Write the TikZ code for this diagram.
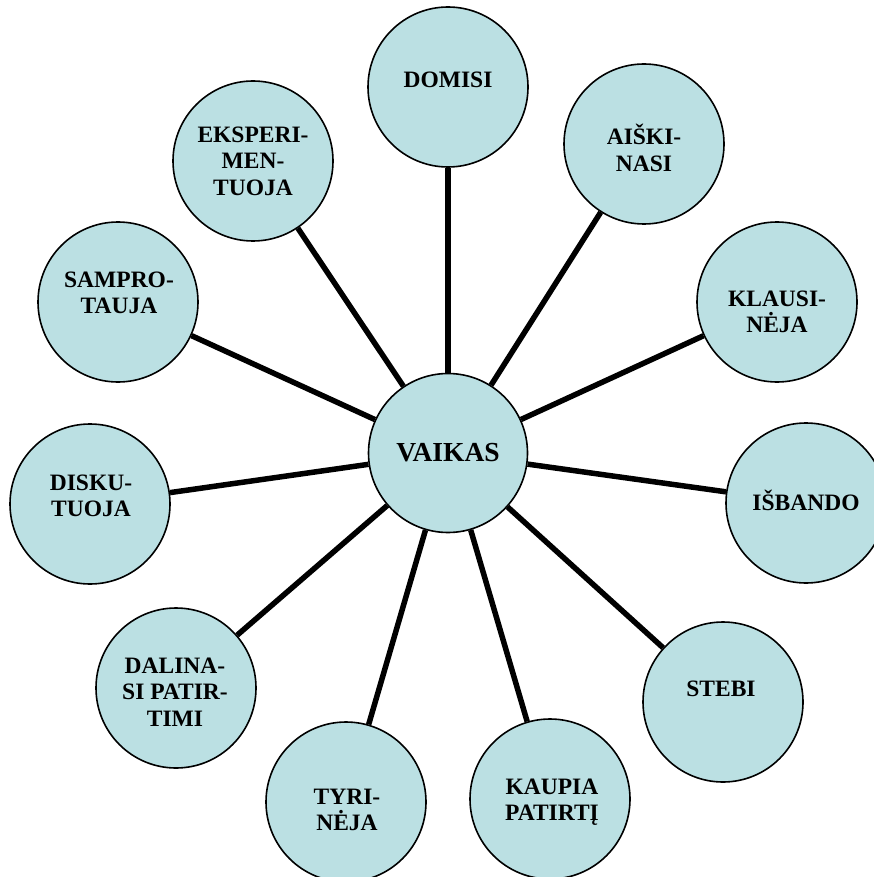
\documentclass[tikz,border=0pt]{standalone}
\usepackage{fontspec}
\setmainfont{Liberation Serif}
\begin{document}
\begin{tikzpicture}[x=1pt,y=-1pt,
  bubble/.style={circle,draw=black,line width=1.6pt,fill=circfill,minimum size=160pt,inner sep=0pt},
  hub/.style={bubble,minimum size=159pt},
  lbl/.style={align=center,inner sep=0pt,font=\bfseries\fontsize{23.5}{26.5}\selectfont},
  hublbl/.style={lbl,font=\bfseries\fontsize{27.5}{30}\selectfont},
  spoke/.style={line width=5.5pt}]
\definecolor{circfill}{RGB}{187,224,227}
\useasboundingbox (0,0) rectangle (874,877);
\clip (0,0) rectangle (874,877);
\node[hub] (c0) at (448,453) {};
\node[bubble] (c1) at (448,87) {};
\node[bubble] (c2) at (644,144) {};
\node[bubble] (c3) at (777,302) {};
\node[bubble] (c4) at (806,503) {};
\node[bubble] (c5) at (723,702) {};
\node[bubble] (c6) at (550,799) {};
\node[bubble] (c7) at (346,802) {};
\node[bubble] (c8) at (176,688) {};
\node[bubble] (c9) at (90,504) {};
\node[bubble] (c10) at (118,302) {};
\node[bubble] (c11) at (253,161) {};
\foreach \i in {1,...,11} {\draw[spoke] (c0) -- (c\i);}
\node[hublbl] (t0) at (448,453) {VAIKAS};
\node[lbl] (t1) at (448,80) {DOMISI};
\node[lbl] (t2) at (644,148) {AIŠKI-\\NASI};
\node[lbl] (t3) at (777,312) {KLAUSI-\\NĖJA};
\node[lbl] (t4) at (806,500) {IŠBANDO};
\node[lbl] (t5) at (721,689) {STEBI};
\node[lbl] (t6) at (552,802) {KAUPIA\\PATIRTĮ};
\node[lbl] (t7) at (347,810) {TYRI-\\NĖJA};
\node[lbl] (t8) at (175,692) {DALINA-\\SI PATIR-\\TIMI};
\node[lbl] (t9) at (91,496) {DISKU-\\TUOJA};
\node[lbl] (t10) at (119,293) {SAMPRO-\\TAUJA};
\node[lbl] (t11) at (253,161) {EKSPERI-\\MEN-\\TUOJA};
\end{tikzpicture}
\end{document}
